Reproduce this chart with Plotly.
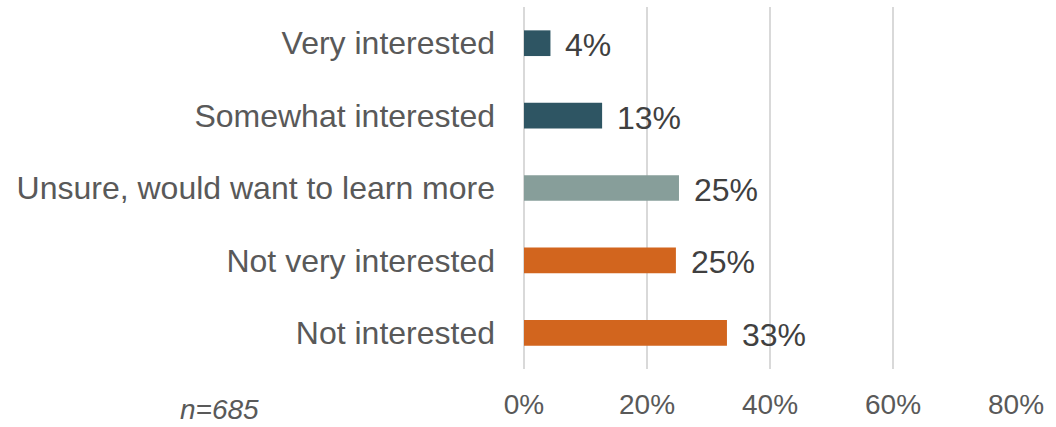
import plotly.graph_objects as go

# Survey responses, top to bottom as displayed
categories = [
    "Very interested",
    "Somewhat interested",
    "Unsure, would want to learn more",
    "Not very interested",
    "Not interested",
]
shares = [4.3, 12.7, 25.2, 24.7, 33.0]
bar_colors = ["#2E5563", "#2E5563", "#879E9A", "#D2651E", "#D2651E"]
tick_values = [0, 20, 40, 60, 80]
tick_labels = ["0%", "20%", "40%", "60%", "80%"]
sample_note = "n=685"

FONT = "Liberation Sans, Arial, sans-serif"

fig = go.Figure(
    go.Bar(
        x=shares,
        y=categories,
        orientation="h",
        marker=dict(color=bar_colors, line=dict(width=0)),
        width=0.355,
        hoverinfo="skip",
    )
)

# Value labels to the right of each bar
for cat, val in zip(categories, shares):
    fig.add_annotation(
        x=val,
        y=cat,
        xref="x",
        yref="y",
        text=f"{val:.0f}%",
        showarrow=False,
        xanchor="left",
        yanchor="middle",
        xshift=13,
        yshift=-2,
        font=dict(family=FONT, size=32, color="#404040"),
    )

fig.add_annotation(
    x=-0.703,
    y=-0.112,
    xref="paper",
    yref="paper",
    text=f"<i>{sample_note}</i>",
    showarrow=False,
    xanchor="left",
    yanchor="middle",
    font=dict(family=FONT, size=28, color="#595959"),
)

fig.update_layout(
    width=1056,
    height=427,
    margin=dict(l=524, r=40, t=7, b=53),
    paper_bgcolor="white",
    plot_bgcolor="white",
    showlegend=False,
    font=dict(family=FONT, color="#595959"),
)

fig.update_xaxes(
    range=[0, 80],
    tickvals=tick_values,
    ticktext=tick_labels,
    showgrid=True,
    gridcolor="#D9D9D9",
    gridwidth=2,
    zeroline=True,
    zerolinecolor="#D9D9D9",
    zerolinewidth=2,
    showline=False,
    ticks="",
    tickfont=dict(family=FONT, size=28, color="#595959"),
    ticklabelstandoff=16,
    fixedrange=True,
)

fig.update_yaxes(
    categoryorder="array",
    categoryarray=categories[::-1],
    showgrid=False,
    zeroline=False,
    showline=False,
    ticks="",
    tickfont=dict(family=FONT, size=32, color="#595959"),
    ticklabelstandoff=28,
    fixedrange=True,
)

fig.write_html("out.html", config={"displayModeBar": False})
